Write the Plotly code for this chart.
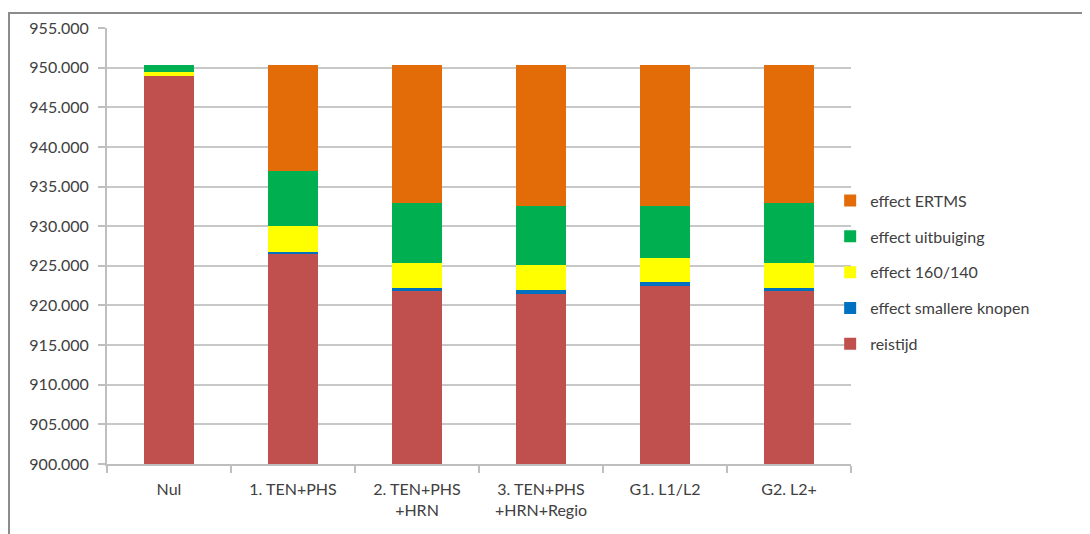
import plotly.graph_objects as go

categories = ["Nul", "1. TEN+PHS", "2. TEN+PHS<br>+HRN", "3. TEN+PHS<br>+HRN+Regio", "G1. L1/L2", "G2. L2+"]

reistijd = [949000, 926600, 921800, 921450, 922500, 921800]
effect_smallere_knopen = [0, 200, 450, 500, 500, 450]
effect_160_140 = [400, 3200, 3150, 3100, 3000, 3150]
effect_uitbuiging = [900, 6950, 7550, 7550, 6600, 7550]
effect_ertms = [0, 13350, 17350, 17700, 17700, 17350]

series = [
    ("reistijd", reistijd, "#C0504D"),
    ("effect smallere knopen", effect_smallere_knopen, "#0070C0"),
    ("effect 160/140", effect_160_140, "#FFFF00"),
    ("effect uitbuiging", effect_uitbuiging, "#00B050"),
    ("effect ERTMS", effect_ertms, "#E36C09"),
]

y_ticks = [900000 + 5000 * i for i in range(12)]

fig = go.Figure()
for i, (name, vals, color) in enumerate(series):
    fig.add_trace(go.Bar(
        x=categories, y=vals, name=name, legendgroup=name,
        legendrank=len(series) - i,
        marker=dict(color=color, line=dict(width=0)),
    ))

W, H = 1082, 526
L, T, PW, PH = 99, 20, 744, 436

font_family = "Lato, 'Open Sans', sans-serif"
fig.update_layout(
    barmode="stack",
    bargap=0.6,
    width=W, height=H,
    margin=dict(l=L, r=W - L - PW, t=T, b=H - T - PH, autoexpand=False),
    paper_bgcolor="white", plot_bgcolor="white",
    separators=",.",
    font=dict(family=font_family, size=16, color="#404040"),
    showlegend=True,
    legend=dict(
        x=0.972, xanchor="left", y=0.44, yanchor="middle",
        traceorder="grouped", tracegroupgap=12,
        font=dict(size=16, color="#404040"),
        bgcolor="rgba(0,0,0,0)",
        itemwidth=30,
    ),
    xaxis=dict(
        showline=True, linecolor="#BFBFBF", linewidth=2,
        ticks="outside", tickson="boundaries", ticklen=7, tickcolor="#BFBFBF", tickwidth=2,
        showgrid=False, tickfont=dict(size=16), ticklabelstandoff=10,
    ),
    yaxis=dict(
        range=[900000, 955000], tickvals=y_ticks, tickformat=",d",
        showline=True, linecolor="#BFBFBF", linewidth=2,
        ticks="outside", ticklen=7, tickcolor="#BFBFBF", tickwidth=2,
        showgrid=True, gridcolor="#C8C8C8", gridwidth=2,
        zeroline=False, tickfont=dict(size=16), ticklabelstandoff=6,
    ),
)

# outer chart frame (top and left edges)
x_left = (0 - L) / PW
y_top = 1 + (T - 5) / PH
y_bot = -(H - T - PH) / PH
fig.add_shape(type="line", xref="paper", yref="paper",
              x0=x_left + 1 / PW, x1=x_left + 1 / PW, y0=y_bot, y1=y_top,
              line=dict(color="#8C8C8C", width=2), layer="above")
fig.add_shape(type="line", xref="paper", yref="paper",
              x0=x_left, x1=(W - L) / PW, y0=y_top, y1=y_top,
              line=dict(color="#8C8C8C", width=2), layer="above")

fig.write_html("out.html")
